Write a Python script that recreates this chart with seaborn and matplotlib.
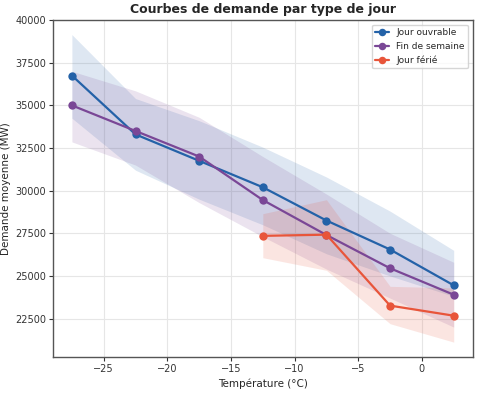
import numpy as np
import pandas as pd
import matplotlib
matplotlib.use("Agg")
import matplotlib.pyplot as plt
import seaborn as sns

# Temperature bins (centres) and mean demand per day type
temps = [-27.5, -22.5, -17.5, -12.5, -7.5, -2.5, 2.5]

ouvrable_mean = [36750, 33300, 31750, 30200, 28250, 26550, 24450]
ouvrable_low = [34250, 31200, 29500, 28000, 26300, 25000, 23800]
ouvrable_high = [39150, 35400, 34100, 32550, 30800, 28800, 26500]

weekend_mean = [35000, 33500, 32000, 29450, 27400, 25450, 23900]
weekend_low = [32860, 31500, 29300, 27300, 25400, 23700, 22000]
weekend_high = [37000, 35850, 34300, 32000, 29800, 27500, 25800]

ferie_temps = [-12.5, -7.5, -2.5, 2.5]
ferie_mean = [27350, 27420, 23260, 22670]
ferie_low = [26070, 25330, 22200, 21120]
ferie_high = [28650, 29470, 24390, 24300]

labels = ["Jour ouvrable", "Fin de semaine", "Jour férié"]
colors = ["#2462a8", "#7a4796", "#e8553a"]

series = [
    (temps, ouvrable_mean, ouvrable_low, ouvrable_high),
    (temps, weekend_mean, weekend_low, weekend_high),
    (ferie_temps, ferie_mean, ferie_low, ferie_high),
]

frames = []
for lab, (t, m, lo, hi) in zip(labels, series):
    frames.append(pd.DataFrame({"temp": t, "demande": m, "type": lab}))
df = pd.concat(frames, ignore_index=True)

sns.set_style("ticks")
fig = plt.figure(figsize=(4.8, 3.94), dpi=100)
ax = fig.add_axes([0.110, 0.094, 0.875, 0.855])

sns.lineplot(data=df, x="temp", y="demande", hue="type", hue_order=labels,
             palette=colors, marker="o", markersize=6, markeredgewidth=0,
             linewidth=1.6, ax=ax)

for (t, m, lo, hi), c in zip(series, colors):
    ax.fill_between(t, lo, hi, color=c, alpha=0.15, linewidth=0)

ax.set_xlim(-29, 4)
ax.set_ylim(20250, 40000)
ax.set_xticks([-25, -20, -15, -10, -5, 0])
ax.set_yticks([22500, 25000, 27500, 30000, 32500, 35000, 37500, 40000])
ax.grid(True, color="#e6e6e6", linewidth=0.8)
ax.tick_params(labelsize=7, colors="#333333", length=3, pad=2)
for s in ax.spines.values():
    s.set_color("#555555")
    s.set_linewidth(1.0)

ax.set_title("Courbes de demande par type de jour", fontsize=9, fontweight="bold", pad=5)
ax.set_xlabel("Température (°C)", fontsize=7.5, labelpad=3)
ax.set_ylabel("Demande moyenne (MW)", fontsize=7.5, labelpad=3)
ax.legend(loc="upper right", fontsize=6.5, frameon=True, handlelength=1.5,
          markerscale=0.9)

fig.savefig("out.png", dpi=100)
